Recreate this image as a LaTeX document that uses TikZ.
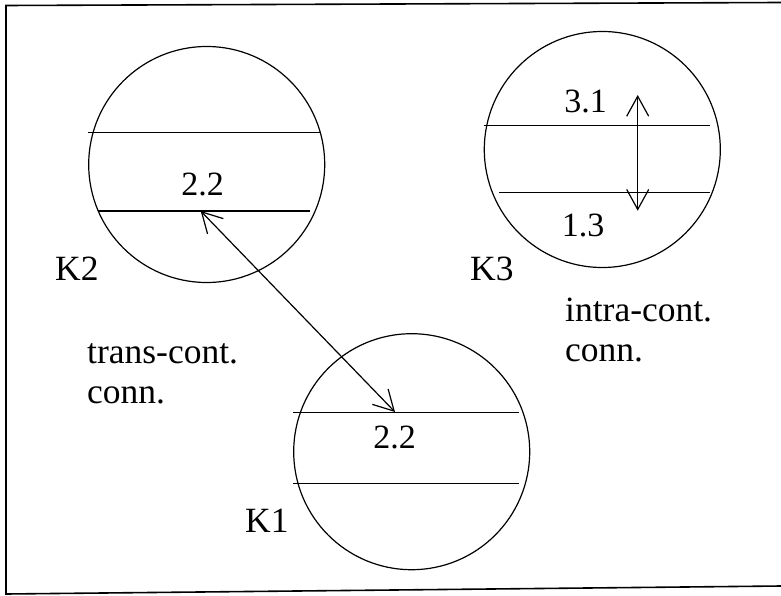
\documentclass[tikz,border=0pt]{standalone}
\usepackage{fontspec}
\setmainfont{Liberation Serif}
\usetikzlibrary{arrows.meta}
\begin{document}
\begin{tikzpicture}[x=1pt,y=-1pt,
  ring/.style={circle,draw,line width=1.2pt,inner sep=0pt,minimum size=236pt},
  band/.style={line width=1.5pt},
  lbl/.style={inner sep=0pt,anchor=base west,font=\fontsize{35.5}{42}\selectfont},
  num/.style={inner sep=0pt,anchor=base,font=\fontsize{34}{40}\selectfont},
  conn/.style={line width=1.2pt,{Straight Barb[length=20pt,width=22pt]}-{Straight Barb[length=20pt,width=22pt]}}]
\useasboundingbox (0,0) rectangle (781,596);
% frame
\coordinate (fa) at (781,2.5);
\coordinate (fb) at (6,5.5);
\coordinate (fc) at (6,594);
\coordinate (fd) at (781,586);
\draw[line width=1.6pt] (fa) -- (fb) -- (fc) -- (fd);
% circles
\node[ring] (K2c) at (206.7,164.5) {};
\node[ring] (K3c) at (602.3,149.5) {};
\node[ring] (K1c) at (411.7,451.7) {};
% bands K2
\coordinate (k2a) at (88,132.7); \coordinate (k2b) at (321,132.7);
\coordinate (k2c) at (98,211); \coordinate (k2d) at (310,211);
\draw[band] (k2a) -- (k2b);
\draw[band] (k2c) -- (k2d);
% bands K1
\coordinate (k1a) at (293,412.3); \coordinate (k1b) at (519,412.3);
\coordinate (k1c) at (293,483.7); \coordinate (k1d) at (519,483.7);
\draw[band] (k1a) -- (k1b);
\draw[band] (k1c) -- (k1d);
% bands K3
\coordinate (k3a) at (484,125.3); \coordinate (k3b) at (710,125.3);
\coordinate (k3c) at (499.3,192.7); \coordinate (k3d) at (710,192.7);
\draw[band] (k3a) -- (k3b);
\draw[band] (k3c) -- (k3d);
% numbers
\node[num] (n22a) at (202.7,195.5) {2.2};
\node[num] (n22b) at (394.7,448) {2.2};
\node[num] (n31) at (585.5,112.3) {3.1};
\node[num] (n13) at (583,236.7) {1.3};
% connectors
\coordinate (pa) at (200.7,211);
\coordinate (pb) at (395,412);
\draw[conn] (pa) -- (pb);
\coordinate (qa) at (637.7,95);
\coordinate (qb) at (637.7,210.7);
\draw[conn] (qa) -- (qb);
% labels
\node[lbl] (lK2) at (55,280) {K2};
\node[lbl] (lK3) at (470,280) {K3};
\node[lbl] (lK1) at (245,532) {K1};
\node[lbl] (lt1) at (87,363) {trans-cont.};
\node[lbl] (lt2) at (87,403) {conn.};
\node[lbl] (li1) at (565,321.7) {intra-cont.};
\node[lbl] (li2) at (565,361.7) {conn.};
\end{tikzpicture}
\end{document}
